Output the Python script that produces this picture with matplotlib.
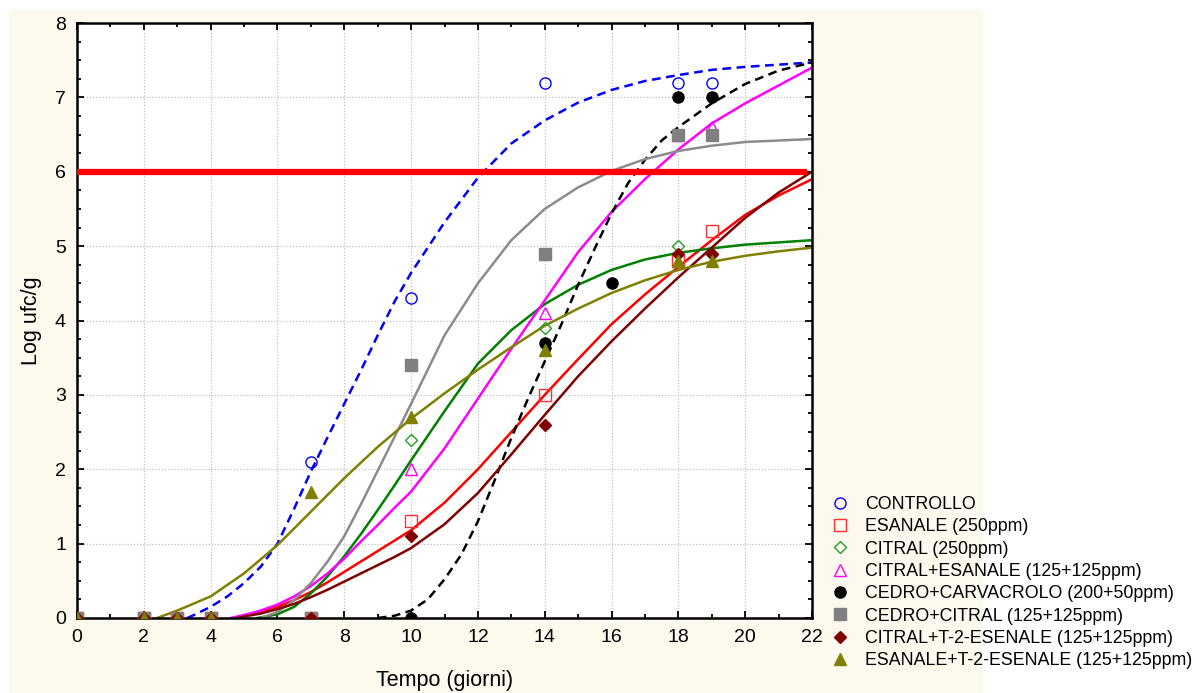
import matplotlib
matplotlib.use('Agg')
import matplotlib.pyplot as plt
from matplotlib.patches import Rectangle
from matplotlib.ticker import MultipleLocator

plt.rcParams['font.family'] = ['Liberation Sans', 'DejaVu Sans']

# ---------------- data ----------------
labels = ["CONTROLLO", "ESANALE (250ppm)", "CITRAL (250ppm)",
          "CITRAL+ESANALE (125+125ppm)", "CEDRO+CARVACROLO (200+50ppm)",
          "CEDRO+CITRAL (125+125ppm)", "CITRAL+T-2-ESENALE (125+125ppm)",
          "ESANALE+T-2-ESENALE (125+125ppm)"]

days = [0, 2, 3, 4, 7, 10, 14, 18, 19]
days_cc = [0, 2, 3, 4, 7, 10, 14, 16, 18, 19]

obs_controllo = [0, 0, 0, 0, 2.1, 4.3, 7.2, 7.2, 7.2]
obs_esanale = [0, 0, 0, 0, 0, 1.3, 3.0, 4.8, 5.2]
obs_citral = [0, 0, 0, 0, 0, 2.4, 3.9, 5.0, 4.9]
obs_citral_esanale = [0, 0, 0, 0, 0, 2.0, 4.1, 6.5, 6.6]
obs_cedro_carvacrolo = [0, 0, 0, 0, 0, 0, 3.7, 4.5, 7.0, 7.0]
obs_cedro_citral = [0, 0, 0, 0, 0, 3.4, 4.9, 6.5, 6.5]
obs_citral_t2 = [0, 0, 0, 0, 0, 1.1, 2.6, 4.9, 4.9]
obs_esanale_t2 = [0, 0, 0, 0, 1.7, 2.7, 3.6, 4.8, 4.8]

# fitted curves
fit_x_controllo = [3.3, 3.5, 4, 4.5, 5, 5.5, 6, 6.5, 7, 7.5, 8, 8.5, 9, 9.5, 10,
                   11, 12, 13, 14, 15, 16, 17, 18, 19, 20, 21, 22]
fit_y_controllo = [0, 0.04, 0.15, 0.29, 0.47, 0.69, 1.0, 1.47, 1.97, 2.43, 2.88,
                   3.33, 3.8, 4.25, 4.64, 5.32, 5.92, 6.38, 6.69, 6.93, 7.1,
                   7.22, 7.3, 7.37, 7.41, 7.44, 7.47]

fit_x_esanale = [4.7, 5, 5.5, 6, 6.5, 7, 7.5, 8, 8.5, 9, 9.5, 10, 11, 12, 13, 14,
                 15, 16, 17, 18, 19, 20, 21, 22]
fit_y_esanale = [0, 0.03, 0.08, 0.15, 0.24, 0.35, 0.48, 0.62, 0.76, 0.9, 1.04,
                 1.18, 1.55, 2.0, 2.5, 3.0, 3.48, 3.95, 4.35, 4.72, 5.08,
                 5.42, 5.68, 5.9]

fit_x_citral = [5.4, 6, 6.5, 7, 7.5, 8, 8.5, 9, 9.5, 10, 11, 12, 13, 14, 15, 16,
                17, 18, 19, 20, 21, 22]
fit_y_citral = [0, 0.05, 0.15, 0.33, 0.56, 0.83, 1.13, 1.45, 1.78, 2.12, 2.78,
                3.42, 3.87, 4.22, 4.48, 4.68, 4.82, 4.91, 4.97, 5.02, 5.05, 5.08]

fit_x_citral_esanale = [4.6, 5, 5.5, 6, 6.5, 7, 7.5, 8, 8.5, 9, 9.5, 10, 11, 12,
                        13, 14, 15, 16, 17, 18, 19, 20, 21, 22]
fit_y_citral_esanale = [0, 0.04, 0.1, 0.18, 0.29, 0.43, 0.6, 0.8, 1.03, 1.25,
                        1.48, 1.7, 2.28, 2.95, 3.62, 4.27, 4.92, 5.46, 5.9, 6.3,
                        6.65, 6.92, 7.16, 7.4]

fit_x_cedro_carvacrolo = [9.0, 9.5, 10, 10.5, 11, 11.5, 12, 12.5, 13, 13.5, 14,
                          14.5, 15, 15.5, 16, 16.5, 17, 17.5, 18, 19, 20, 21, 22]
fit_y_cedro_carvacrolo = [0, 0.03, 0.1, 0.25, 0.52, 0.85, 1.3, 1.85, 2.42, 2.95,
                          3.45, 3.95, 4.48, 4.97, 5.44, 5.85, 6.16, 6.42, 6.6,
                          6.92, 7.18, 7.36, 7.47]

fit_x_cedro_citral = [5.5, 6, 6.5, 7, 7.5, 8, 8.5, 9, 9.5, 10, 11, 12, 13, 14,
                      15, 16, 17, 18, 19, 20, 21, 22]
fit_y_cedro_citral = [0, 0.08, 0.24, 0.47, 0.76, 1.1, 1.53, 1.98, 2.43, 2.88,
                      3.8, 4.5, 5.08, 5.5, 5.79, 6.01, 6.17, 6.28, 6.35, 6.4,
                      6.42, 6.44]

fit_x_citral_t2 = [4.8, 5, 5.5, 6, 6.5, 7, 7.5, 8, 8.5, 9, 9.5, 10, 11, 12, 13,
                   14, 15, 16, 17, 18, 19, 20, 21, 22]
fit_y_citral_t2 = [0, 0.02, 0.06, 0.12, 0.19, 0.28, 0.38, 0.49, 0.6, 0.71, 0.82,
                   0.94, 1.26, 1.68, 2.2, 2.73, 3.25, 3.72, 4.16, 4.58, 4.98,
                   5.38, 5.72, 6.0]

fit_x_esanale_t2 = [2.4, 3, 4, 5, 6, 7, 8, 9, 10, 11, 12, 13, 14, 15, 16, 17, 18,
                    19, 20, 21, 22]
fit_y_esanale_t2 = [0, 0.1, 0.29, 0.6, 0.98, 1.43, 1.88, 2.3, 2.68, 3.02, 3.34,
                    3.64, 3.93, 4.16, 4.37, 4.54, 4.68, 4.79, 4.87, 4.93, 4.98]

threshold = 6
threshold_end = 21.85

# ---------------- styles ----------------
series = [
    (days, obs_controllo, fit_x_controllo, fit_y_controllo,
     dict(marker='o', mfc='none', mec='#0000FF', ms=8), '#0000FF', (0, (3.5, 2.2))),
    (days, obs_esanale, fit_x_esanale, fit_y_esanale,
     dict(marker='s', mfc='none', mec='#FF3030', ms=9), '#FF0000', '-'),
    (days, obs_citral, fit_x_citral, fit_y_citral,
     dict(marker='D', mfc='none', mec='#22A022', ms=6), '#008000', '-'),
    (days, obs_citral_esanale, fit_x_citral_esanale, fit_y_citral_esanale,
     dict(marker='^', mfc='none', mec='#FF00FF', ms=9), '#FF00FF', '-'),
    (days_cc, obs_cedro_carvacrolo, fit_x_cedro_carvacrolo, fit_y_cedro_carvacrolo,
     dict(marker='o', mfc='#000000', mec='#000000', ms=8), '#000000', (0, (3.5, 2.2))),
    (days, obs_cedro_citral, fit_x_cedro_citral, fit_y_cedro_citral,
     dict(marker='s', mfc='#808080', mec='#808080', ms=8), '#8C8C8C', '-'),
    (days, obs_citral_t2, fit_x_citral_t2, fit_y_citral_t2,
     dict(marker='D', mfc='#800000', mec='#800000', ms=6), '#800000', '-'),
    (days, obs_esanale_t2, fit_x_esanale_t2, fit_y_esanale_t2,
     dict(marker='^', mfc='#808000', mec='#808000', ms=9), '#808000', '-'),
]

W, H = 1195, 693
fig = plt.figure(figsize=(W / 100, H / 100), dpi=100, facecolor='white')
fig.patches.append(Rectangle((9 / W, 0), (983 - 9) / W, (H - 10) / H,
                             transform=fig.transFigure, facecolor='#FEF9EF',
                             edgecolor='none', zorder=-10))

ax = fig.add_axes([77 / W, (H - 618) / H, (812 - 77) / W, (618 - 23) / H])
ax.set_zorder(1)
ax.set_facecolor('white')

for (dx, dy, fx, fy, mk, lc, ls) in series:
    ax.plot(fx, fy, color=lc, lw=1.8, linestyle=ls, zorder=2)

ax.hlines(threshold, 0, threshold_end, color='#FF0000', lw=4.5, zorder=3)

handles = []
for (dx, dy, fx, fy, mk, lc, ls), lab in zip(series, labels):
    h, = ax.plot(dx, dy, linestyle='none', mew=1.0, zorder=4, label=lab, **mk)
    handles.append(h)

ax.set_xlim(0, 22)
ax.set_ylim(0, 8)
ax.xaxis.set_major_locator(MultipleLocator(2))
ax.xaxis.set_minor_locator(MultipleLocator(1))
ax.yaxis.set_major_locator(MultipleLocator(1))
ax.yaxis.set_minor_locator(MultipleLocator(0.25))
ax.tick_params(which='both', direction='in', top=True, right=True, width=1.3,
               labelsize=14, colors='black')
ax.tick_params(which='major', length=5, pad=8)
ax.tick_params(which='minor', length=3)
ax.grid(which='major', color='#C0C0C0', linestyle=(0, (1, 1.5)), lw=0.9, zorder=1)
for s in ax.spines.values():
    s.set_linewidth(1.8)
    s.set_color('black')

ax.set_xlabel('Tempo (giorni)', fontsize=15.5, labelpad=17)
ax.set_ylabel('Log ufc/g', fontsize=15.5, labelpad=9)

fig.legend(handles=handles, labels=labels, loc='upper left',
           bbox_to_anchor=(833 / W, 1 - 496 / H), frameon=False,
           fontsize=12.8, handlelength=0.8, handletextpad=1.0,
           labelspacing=0.3, borderpad=0, borderaxespad=0)

fig.savefig('out.png', dpi=100, facecolor='white')
